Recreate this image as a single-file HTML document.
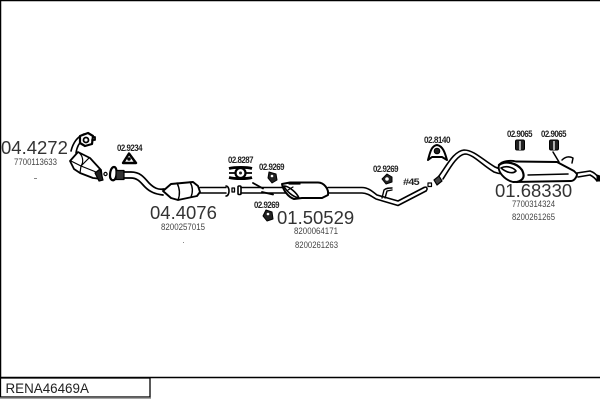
<!DOCTYPE html>
<html>
<head>
<meta charset="utf-8">
<style>
html,body{margin:0;padding:0;background:#fff;}
svg{display:block;}
text{font-family:"Liberation Sans",sans-serif;fill:#222;}
.big{font-size:18.5px;fill:#333;}
.sm{font-size:9.5px;fill:#444;}
.ref{font-size:9.5px;font-weight:bold;letter-spacing:-.6px;}
.b{filter:blur(.35px);}
</style>
</head>
<body>
<svg width="600" height="400" viewBox="0 0 600 400" xmlns="http://www.w3.org/2000/svg">
<rect width="600" height="400" fill="#fff"/>
<!-- frame -->
<path d="M.5 0V398M0 .5H600M0 377.500H600" stroke="#000" stroke-width="1.500" fill="none"/>
<rect x=".5" y="378" width="149.500" height="19" fill="#fff" stroke="#000" stroke-width="1.300"/>
<path d="M0 398H151" stroke="#888" stroke-width="1.500"/>
<text x="5.500" y="393" style="font-size:13.400px;fill:#222">RENA46469A</text>

<g class="b">
<g fill="none" stroke="#000" stroke-linejoin="round" stroke-linecap="round">
<!-- front flange + downpipe -->
<path d="M71 151C73 143 77 137 84 134" stroke-width="1.600"/>
<path d="M76 153C77 146 80 142 83 140" stroke-width="1.600"/>
<path d="M80 136L88 133L93 136L92 144L85 146L80 143Z" fill="#fff" stroke-width="2.200"/>
<circle cx="86" cy="140" r="2.500" stroke-width="1.800"/>
<path d="M93 137H95V140H92" stroke-width="1.800"/>
<!-- catalyst 1 -->
<path d="M70 161L78 152L90 158L101 170L102 179L93 178L80 173L74 169Z" fill="#fff" stroke-width="1.800"/>
<path d="M71 161L81 166L80 173M78 152C83 155 84 162 81 166M81 166L89 158M81 166L101 174" stroke-width="1.200"/>
<path d="M95 173L100 169L103 180L99 181Z" fill="#222" stroke-width="1.200"/>
<circle cx="105.500" cy="174" r="1.600" stroke-width="1.200"/>
<!-- flange + inlet pipe 2 -->
<path d="M110 176C110 170 112 167 114 167C118 167 117 179 114 180C112 181 110 179 110 176Z" fill="#fff" stroke-width="2.200"/>
<rect x="116" y="170.500" width="8" height="9" fill="#333" stroke-width="1.200"/>
<path d="M124 172H131C140 172 144 177 149 183C154 188 158 190 164 189M124 178H131C138 178 141 183 145 187C150 192 155 194 163 195" fill="#fff" stroke-width="1.700"/>
<!-- catalyst 2 -->
<path d="M163 191L171 184L193 182L198 186L200 192L197 196L178 200L171 198Z" fill="#fff" stroke-width="1.900"/>
<path d="M177 183C180 189 180 195 178 200M190 182C193 187 193 192 191 197" stroke-width="1.400"/>
<path d="M200 187.500H226M200 193H226" stroke-width="1.500"/>
<path d="M226 186C230 186 230 196 226 196" stroke-width="1.600"/>
<rect x="232" y="188" width="2.500" height="4" stroke-width="1.300"/>
<rect x="238" y="186" width="3" height="8.500" rx="1" fill="#fff" stroke-width="1.600"/>
<!-- middle pipe -->
<path d="M241 187.500H285M241 193H288" stroke-width="1.600"/>
<path d="M253 183L263 188.500M262 192L273 194.500" stroke-width="1.800"/>
<!-- middle silencer -->
<path d="M282 184L290 182.500H318C324 182.500 329 189 328 195L322 198H302L294 199C288 197 283 190 282 184Z" fill="#fff" stroke-width="2"/>
<path d="M284 186C289 186 297 193 299 198C293 197 286 191 284 186Z" fill="#fff" stroke-width="1.600"/>
<path d="M288 190L293 187M289 184H300" stroke-width="1.200"/>
<!-- pipe to centre -->
<path d="M328 187.500H362C368 187.500 372 191 377 195L398 201L424 187.500M328 193H362C367 193 371 196 376 199L398 205.500L426 191" stroke-width="1.600"/>
<path d="M424 187.500C427 186 428 189 426 191" stroke-width="1.500"/>
<path d="M382 198L384 190C386 188 389 188 392 188M385 198L387 191L392 190" stroke-width="1.400"/>
<rect x="428" y="183" width="3.500" height="3.500" stroke-width="1.200"/>
<!-- rear pipe -->
<path d="M434 180L439 176L442 181L437 185Z" fill="#444" stroke-width="1.200"/>
<path d="M439 176C447 165 454 151 464 150C474 150 483 160 495 167C501 170 505 169 510 168M443 179C450 168 457 155 465 154C473 154 482 165 494 172C499 174 503 174 510 174" stroke-width="1.600"/>
<!-- rear silencer -->
<path d="M499 165C502 161 510 160 516 161.500L557 162L574 171L577 174C577 177 574 181 571 181L513 182C505 180 497 172 499 165Z" fill="#fff" stroke-width="1.900"/>
<path d="M499 165C505 160 517 163 522 170C525 176 524 180 517 182" stroke-width="2.200"/>
<path d="M501 168C507 165 514 168 516 171C513 174 507 173 501 168Z" fill="#fff" stroke-width="1.600"/>
<path d="M528 175L568 174" stroke-width="1.500"/>
<path d="M553 152L559 162M562 160C565 157 569 156 573 158L572 163" stroke-width="1.500"/>
<path d="M577 173L590 171C593 172 596 174 598 177M578 177L590 175C592 176 595 178 597 181" stroke-width="1.600"/>
<path d="M597 175L600 176V181L597 181Z" fill="#000" stroke-width="1"/>
</g>

<!-- hangers -->
<g stroke="#000" stroke-linejoin="round">
<path d="M129 153.500L136 163H123Z" fill="#fff" stroke-width="2.400"/>
<circle cx="129" cy="159" r="1.300" fill="#000"/>
<!-- 02.8287 -->
<path d="M229 168.500C235 167 247 167 252 168.500M229 177.500C235 179 247 179 252 177.500" stroke-width="2.800" fill="none"/>
<path d="M229 173H252" stroke-width="1.800"/>
<circle cx="240.500" cy="173" r="5" fill="#fff" stroke-width="2.200"/>
<circle cx="240.500" cy="173" r="1.500" fill="#222" stroke="none"/>
<!-- small 02.9269s -->
<path d="M269 172L276 174L277 180L272 183L268 178Z" fill="#222" stroke-width="1"/>
<circle cx="272" cy="176" r="1.300" fill="#fff" stroke="none"/>
<path d="M266 210L272 212L273 219L267 221L263 216Z" fill="#222" stroke-width="1"/>
<circle cx="268" cy="214" r="1.300" fill="#fff" stroke="none"/>
<path d="M387 174L392 177L392 182L386 184L382 179Z" fill="#222" stroke-width="1"/>
<circle cx="387" cy="179" r="1.800" fill="#fff" stroke="none"/>
<!-- 02.8140 -->
<path d="M428 160C430 153 431 146 437 145C443 146 445 153 447 160L442 157L432 157Z" fill="#fff" stroke-width="2"/>
<circle cx="437" cy="151" r="2.800" fill="#222" stroke-width="1"/>
<!-- 02.9065 -->
<rect x="515.500" y="140" width="9" height="10" rx="1.500" fill="#222" stroke-width="1"/>
<path d="M520 141V150" stroke="#fff" stroke-width="1.300"/>
<rect x="549.500" y="140" width="9" height="10" rx="1.500" fill="#222" stroke-width="1"/>
<path d="M554 141V150" stroke="#fff" stroke-width="1.300"/>
</g>

<!-- labels -->
<text class="big" x="1" y="154">04.4272</text>
<text class="sm" x="14" y="165" textLength="43" lengthAdjust="spacingAndGlyphs">7700113633</text>
<text class="ref" x="117" y="151" textLength="25" lengthAdjust="spacingAndGlyphs">02.9234</text>
<text class="big" x="150" y="219">04.4076</text>
<text class="sm" x="161" y="230" textLength="44" lengthAdjust="spacingAndGlyphs">8200257015</text>
<text class="ref" x="228" y="163" textLength="25" lengthAdjust="spacingAndGlyphs">02.8287</text>
<text class="ref" x="259" y="170" textLength="25" lengthAdjust="spacingAndGlyphs">02.9269</text>
<text class="ref" x="254" y="208" textLength="25" lengthAdjust="spacingAndGlyphs">02.9269</text>
<text class="big" x="277" y="224">01.50529</text>
<text class="sm" x="294" y="234" textLength="44" lengthAdjust="spacingAndGlyphs">8200064171</text>
<text class="sm" x="295" y="248" textLength="43" lengthAdjust="spacingAndGlyphs">8200261263</text>
<text class="ref" x="373" y="172" textLength="25" lengthAdjust="spacingAndGlyphs">02.9269</text>
<text class="ref" x="403" y="185" textLength="16" lengthAdjust="spacingAndGlyphs">#45</text>
<text class="ref" x="424" y="143" textLength="26" lengthAdjust="spacingAndGlyphs">02.8140</text>
<text class="ref" x="507" y="137" textLength="25" lengthAdjust="spacingAndGlyphs">02.9065</text>
<text class="ref" x="541" y="137" textLength="25" lengthAdjust="spacingAndGlyphs">02.9065</text>
<text class="big" x="495" y="197">01.68330</text>
<text class="sm" x="512" y="207" textLength="43" lengthAdjust="spacingAndGlyphs">7700314324</text>
<text class="sm" x="512" y="220" textLength="43" lengthAdjust="spacingAndGlyphs">8200261265</text>
<path d="M34 178.500H37M183 242.500H184" stroke="#888" stroke-width="1"/>
</g>
</svg>
</body>
</html>
